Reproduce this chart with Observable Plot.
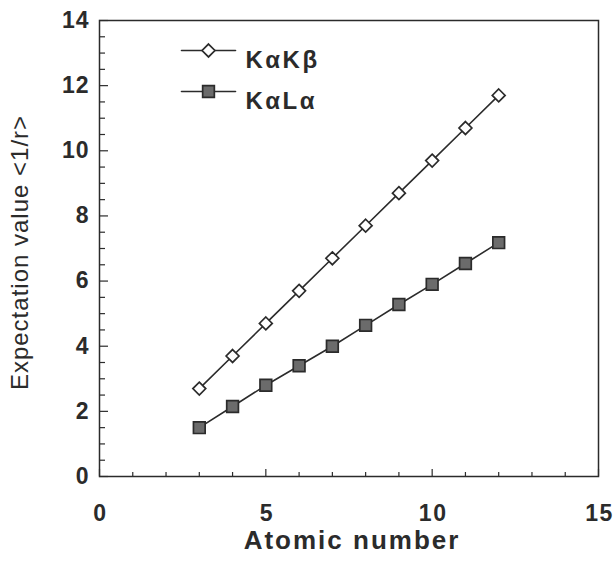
<!DOCTYPE html>
<html>
<head>
<meta charset="utf-8">
<script src="https://cdn.jsdelivr.net/npm/d3@7"></script>
<script src="https://cdn.jsdelivr.net/npm/@observablehq/plot@0.6"></script>
<style>
  html, body { margin: 0; padding: 0; background: #fff; }
  #chart svg { font-family: "Liberation Sans", Arial, sans-serif; }
  #chart text[aria-label="x-tick-labels"] { letter-spacing: 1.5px; }
  #chart text[aria-label="y-tick-labels"] { letter-spacing: 1px; }
  #chart text[aria-label="x-label"] { letter-spacing: 2px; }
  #chart text[aria-label="y-label"] { letter-spacing: 1px; }
  #chart text[aria-label="legend-label"] { letter-spacing: 2.5px; }
</style>
</head>
<body>
<div id="chart"></div>
<script>
const atomicNumber = [3, 4, 5, 6, 7, 8, 9, 10, 11, 12];
const kaKb = [2.7, 3.7, 4.7, 5.7, 6.7, 7.7, 8.7, 9.7, 10.7, 11.7];
const kaLa = [1.5, 2.15, 2.8, 3.4, 4.0, 4.64, 5.28, 5.9, 6.54, 7.18];
const seriesNames = ["KαKβ", "KαLα"];
const xTickLabels = [0, 5, 10, 15];
const yTickLabels = [0, 2, 4, 6, 8, 10, 12, 14];
const xMinorTicks = [1, 2, 3, 4, 6, 7, 8, 9, 11, 12, 13, 14];
const yMinorTicks = [0.5, 1, 1.5, 2.5, 3, 3.5, 4.5, 5, 5.5, 6.5, 7, 7.5, 8.5, 9, 9.5, 10.5, 11, 11.5, 12.5, 13, 13.5];
const xLabel = "Atomic number";
const yLabel = "Expectation value <1/r>";

const W = 613, H = 566;
const mL = 99, mR = 15, mT = 20, mB = 90;
const innerW = W - mL - mR, innerH = H - mT - mB;
const ink = "#2b2b2b";

const series = [
  {name: seriesNames[0], values: kaKb, symbol: "diamond2", fill: "#ffffff", r: 5.8},
  {name: seriesNames[1], values: kaLa, symbol: "square", fill: "#6b6b6b", r: 6.6}
];
const rows = series.flatMap(s => atomicNumber.map((z, i) => ({series: s.name, z, v: s.values[i]})));

const lineShape = {draw(ctx, l) { ctx.moveTo(0, 0); ctx.lineTo(0, -l); }};

const marks = [
  Plot.frame({stroke: ink, strokeWidth: 1.5}),
  Plot.tickX(xMinorTicks, {x: d => d, insetTop: innerH - 4, stroke: ink, strokeWidth: 1.2}),
  Plot.tickX(xTickLabels, {x: d => d, insetTop: innerH - 7, stroke: ink, strokeWidth: 1.2}),
  Plot.tickY(yMinorTicks, {y: d => d, insetRight: innerW - 6, stroke: ink, strokeWidth: 1.2}),
  Plot.tickY(yTickLabels, {y: d => d, insetRight: innerW - 9, stroke: ink, strokeWidth: 1.2}),
  Plot.text(xTickLabels, {ariaLabel: () => "x-tick-labels", x: d => d, frameAnchor: "bottom", dy: 37, dx: 1, text: d => String(d), textAnchor: "middle", lineAnchor: "middle", fontSize: 23, fontWeight: "bold", fill: ink}),
  Plot.text(yTickLabels, {ariaLabel: () => "y-tick-labels", y: d => d, frameAnchor: "left", dx: -10, text: d => String(d), textAnchor: "end", lineAnchor: "middle", fontSize: 23, fontWeight: "bold", fill: ink}),
  Plot.text([xLabel], {ariaLabel: () => "x-label", frameAnchor: "bottom", dy: 72, dx: 3, text: d => d, textAnchor: "middle", fontSize: 26, fontWeight: "bold", fill: ink}),
  Plot.text([yLabel], {ariaLabel: () => "y-label", frameAnchor: "left", dx: -79, dy: 4, rotate: -90, text: d => d, textAnchor: "middle", fontSize: 24, fill: ink})
];

series.forEach((s, k) => {
  const data = rows.filter(d => d.series === s.name);
  marks.push(Plot.line(data, {x: "z", y: "v", stroke: ink, strokeWidth: 1.6}));
  marks.push(Plot.dot(data, {x: "z", y: "v", symbol: s.symbol, r: s.r, fill: s.fill, stroke: ink, strokeWidth: 1.7}));
  const dy = 30 + k * 41;
  marks.push(Plot.vector([s.name], {frameAnchor: "top-left", dx: 109, dy, length: 54, rotate: 90, anchor: "middle", shape: lineShape, stroke: ink, strokeWidth: 1.6}));
  marks.push(Plot.dot([s.name], {frameAnchor: "top-left", dx: 109, dy, symbol: s.symbol, r: s.r, fill: s.fill, stroke: ink, strokeWidth: 1.7}));
  marks.push(Plot.text([s.name], {ariaLabel: () => "legend-label", frameAnchor: "top-left", dx: 146, dy, text: d => d, textAnchor: "start", fontSize: 24, fontWeight: "bold", fill: ink}));
});

const chart = Plot.plot({
  width: W, height: H,
  marginLeft: mL, marginRight: mR, marginTop: mT, marginBottom: mB,
  style: {background: "#fff", fontFamily: "Liberation Sans, Arial, sans-serif", overflow: "visible"},
  x: {domain: [0, 15], axis: null},
  y: {domain: [0, 14], axis: null},
  marks
});
document.getElementById("chart").appendChild(chart);
</script>
</body>
</html>
